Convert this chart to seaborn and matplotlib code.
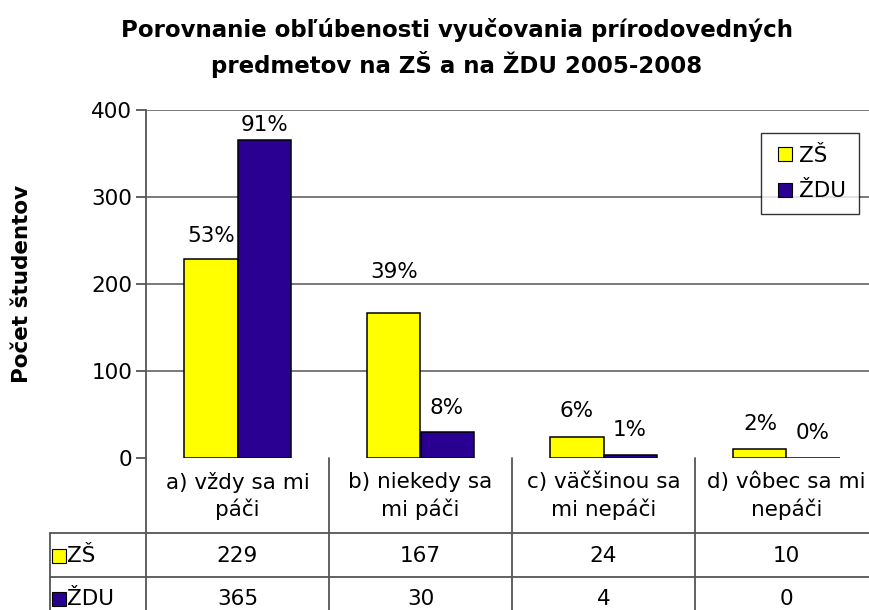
import matplotlib
matplotlib.use("Agg")
import matplotlib.pyplot as plt
import matplotlib.transforms as mtransforms
from matplotlib.lines import Line2D
import seaborn as sns
import pandas as pd

categories = ["a) vždy sa mi\npáči", "b) niekedy sa\nmi páči", "c) väčšinou sa\nmi nepáči", "d) vôbec sa mi\nnepáči"]
series_names = ["ZŠ", "ŽDU"]
zs_values = [229, 167, 24, 10]
zdu_values = [365, 30, 4, 0]
zs_pct = ["53%", "39%", "6%", "2%"]
zdu_pct = ["91%", "8%", "1%", "0%"]
colors = ["#FFFF00", "#2A0092"]
title = "Porovnanie obľúbenosti vyučovania prírodovedných\npredmetov na ZŠ a na ŽDU 2005-2008"
ylabel = "Počet študentov"
yticks = [0, 100, 200, 300, 400]

sns.set_theme(style="white")
plt.rcParams["font.family"] = ["DejaVu Sans"]
for k in ["text.color", "axes.labelcolor", "xtick.color", "ytick.color"]:
    plt.rcParams[k] = "black"

FS = 15.5
W, H = 870, 610
fig = plt.figure(figsize=(W / 100, H / 100), dpi=100)

def fx(p):
    return p / W

def fy(p):
    return 1 - p / H

ax_left, ax_right, ax_top, ax_bot = 146, 878, 110, 458
ax = fig.add_axes([fx(ax_left), fy(ax_bot), (ax_right - ax_left) / W, (ax_bot - ax_top) / H])

df = pd.DataFrame({
    "cat": categories * 2,
    "series": [series_names[0]] * 4 + [series_names[1]] * 4,
    "value": zs_values + zdu_values,
})
sns.barplot(data=df, x="cat", y="value", hue="series", hue_order=series_names,
            palette=colors, width=0.58, edgecolor="black", linewidth=1.1,
            saturation=1, ax=ax, legend=False, zorder=3)

ax.set_xlim(-0.5, 3.5)
ax.set_ylim(0, 400)
ax.set_yticks(yticks)
ax.set_yticklabels([str(t) for t in yticks], fontsize=FS, color="black")
ax.set_xticks([])
ax.set_xlabel("")
ax.set_ylabel("")
for y in yticks[1:]:
    ax.axhline(y, color="#555555", lw=1.1, zorder=1)
for s in ["top", "right", "bottom"]:
    ax.spines[s].set_visible(False)
ax.spines["left"].set_color("#555555")
ax.spines["left"].set_linewidth(1.3)
ax.tick_params(axis="y", left=True, length=7, width=1.3, color="#555555", pad=3)

# percent labels (offset in pixels of label centre above bar top)
zs_off = [23, 41, 26, 25]
zdu_off = [15, 24, 25, 25]
for cont, labs, offs in zip(ax.containers, [zs_pct, zdu_pct], [zs_off, zdu_off]):
    for bar, lab, off in zip(cont.patches, labs, offs):
        ax.annotate(lab, (bar.get_x() + bar.get_width() / 2, bar.get_height()),
                    xytext=(0, off), textcoords="offset pixels",
                    ha="center", va="center", fontsize=FS, color="black")

# legend
handles = [Line2D([], [], marker="s", linestyle="", markersize=10, markerfacecolor=c,
                  markeredgecolor="black", markeredgewidth=0.8) for c in colors]
leg = fig.legend(handles, series_names, loc="upper left",
                 bbox_to_anchor=(fx(761), fy(133)), frameon=True, fontsize=FS,
                 handletextpad=0.15, handlelength=1.0, borderpad=0.6, labelspacing=0.72,
                 fancybox=False, borderaxespad=0)
leg.get_frame().set_edgecolor("black")
leg.get_frame().set_linewidth(1.0)
leg.get_frame().set_facecolor("white")

# title and y label
fig.text(fx(457), fy(48), title, ha="center", va="center", fontsize=16.5,
         fontweight="bold", linespacing=1.4)
fig.text(fx(22), fy(284), ylabel, ha="center", va="center", rotation=90,
         fontsize=15.5, fontweight="bold")

# data table
blend = mtransforms.blended_transform_factory(ax.transData, fig.transFigure)
line_kw = dict(color="#555555", lw=1.3)
row1_bot, row2_bot, table_bot = 533, 577, 620
for b in [-0.5, 0.5, 1.5, 2.5, 3.5]:
    fig.add_artist(Line2D([b, b], [fy(ax_bot), fy(table_bot)], transform=blend, **line_kw))
fig.add_artist(Line2D([fx(50), fx(ax_right)], [fy(row1_bot)] * 2, transform=fig.transFigure, **line_kw))
fig.add_artist(Line2D([fx(50), fx(ax_right)], [fy(row2_bot)] * 2, transform=fig.transFigure, **line_kw))
fig.add_artist(Line2D([fx(50), fx(50)], [fy(row1_bot), fy(table_bot)], transform=fig.transFigure, **line_kw))

for i, cat in enumerate(categories):
    fig.text(i, fy(496), cat, transform=blend, ha="center", va="center",
             fontsize=FS, linespacing=1.35)
    fig.text(i, fy(556), str(zs_values[i]), transform=blend, ha="center", va="center", fontsize=FS)
    fig.text(i, fy(599), str(zdu_values[i]), transform=blend, ha="center", va="center", fontsize=FS)

for name, c, yc in zip(series_names, colors, [556, 599]):
    fig.add_artist(Line2D([fx(59)], [fy(yc)], marker="s", markersize=10, markerfacecolor=c,
                          markeredgecolor="black", markeredgewidth=0.8,
                          transform=fig.transFigure, linestyle=""))
    fig.text(fx(67), fy(yc), name, ha="left", va="center", fontsize=FS)

fig.savefig("out.png", dpi=100)
